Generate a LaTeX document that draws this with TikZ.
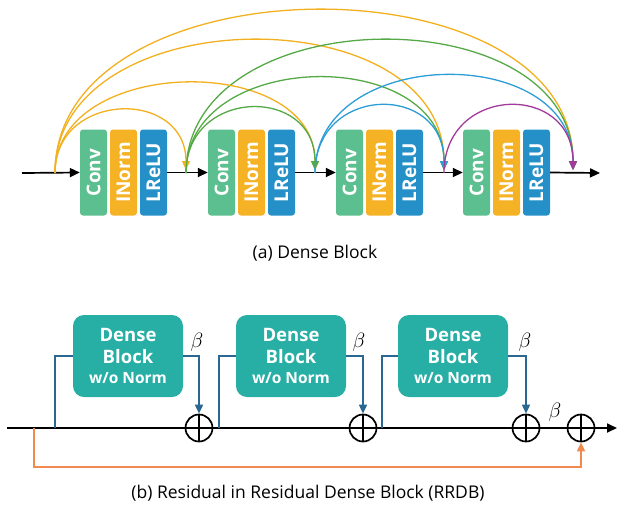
\documentclass[tikz,border=0pt]{standalone}
\usepackage{fontspec}
\setmainfont{Open Sans}
\usetikzlibrary{arrows.meta,calc}

\definecolor{convgreen}{HTML}{5CBF8F}
\definecolor{normyellow}{HTML}{F4B224}
\definecolor{relublue}{HTML}{2590C8}
\definecolor{arcyellow}{HTML}{F2B01E}
\definecolor{arcgreen}{HTML}{55A946}
\definecolor{arcblue}{HTML}{2C9DD6}
\definecolor{arcpurple}{HTML}{A23A9C}
\definecolor{denseteal}{HTML}{27AFA6}
\definecolor{linkblue}{HTML}{2A6791}
\definecolor{skiporange}{HTML}{F08A50}

\tikzset{
  layer/.style={rounded corners=3pt, minimum width=86pt, minimum height=27pt,
    inner sep=0pt, text=white, font=\fontsize{19}{19}\selectfont\bfseries, rotate=90},
  mainline/.style={line width=1.7pt, black},
  mainarrow/.style={mainline, -{Triangle[length=10pt,width=9pt]}},
  skiparc/.style={line width=1.3pt, -{Triangle[length=9pt,width=8pt]}},
  denseblock/.style={rounded corners=11pt, fill=denseteal, minimum width=110pt,
    minimum height=82pt, inner sep=0pt, text=white, align=center,
    font=\fontsize{18.5}{22}\selectfont\bfseries},
  link/.style={line width=1.7pt, linkblue},
  linkarrow/.style={link, -{Triangle[length=9pt,width=8pt]}},
  oplus/.style={circle, draw=black, line width=1.7pt, minimum size=27pt, inner sep=0pt,
    path picture={\draw[line width=1.7pt] (path picture bounding box.north) -- (path picture bounding box.south)
      (path picture bounding box.west) -- (path picture bounding box.east);}},
  caption/.style={font=\fontsize{17.5}{18}\selectfont},
  betalabel/.style={font=\fontsize{22}{22}\selectfont},
}

\begin{document}
\begin{tikzpicture}[x=1pt,y=-1pt]
\useasboundingbox (0,0) rectangle (621,507);

% ---------- (a) Dense Block ----------
\foreach \i/\x in {1/80,2/208,3/336,4/463} {
  \node[layer, fill=convgreen]  (c\i) at (\x+13.5,172.5) {Conv};
  \node[layer, fill=normyellow] (n\i) at (\x+43.5,172.5) {INorm};
  \node[layer, fill=relublue]   (l\i) at (\x+73.5,172.5) {LReLU};
}

\coordinate (ain) at (22,173);
\coordinate (aout) at (600,173);
\coordinate (j0) at (55,173);
\coordinate (j1) at (186,173);
\coordinate (j2) at (315,173);
\coordinate (j3) at (444,173);
\coordinate (j4) at (573,173);
\coordinate (t1) at (186,170);
\coordinate (t2) at (315,170);
\coordinate (t3) at (444,170);
\coordinate (t4) at (573,170);

\draw[mainarrow] (ain) -- (c1.north);
\draw[mainarrow] (l1.south) -- (c2.north);
\draw[mainarrow] (l2.south) -- (c3.north);
\draw[mainarrow] (l3.south) -- (c4.north);
\draw[mainarrow] (l4.south) -- (aout);

% dense skip connections, longest first
\draw[skiparc, arcyellow] (j0) .. controls +(0,-215) and +(0,-215) .. (t4);
\draw[skiparc, arcyellow] (j0) .. controls +(0,-175) and +(0,-175) .. (t3);
\draw[skiparc, arcgreen]  (j1) .. controls +(0,-175) and +(0,-175) .. (t4);
\draw[skiparc, arcyellow] (j0) .. controls +(0,-118) and +(0,-118) .. (t2);
\draw[skiparc, arcgreen]  (j1) .. controls +(0,-125) and +(0,-125) .. (t3);
\draw[skiparc, arcblue]   (j2) .. controls +(0,-128) and +(0,-128) .. (t4);
\draw[skiparc, arcyellow] (j0) .. controls +(0,-82) and +(0,-82) .. (t1);
\draw[skiparc, arcgreen]  (j1) .. controls +(0,-85) and +(0,-85) .. (t2);
\draw[skiparc, arcblue]   (j2) .. controls +(0,-88) and +(0,-88) .. (t3);
\draw[skiparc, arcpurple] (j3) .. controls +(0,-88) and +(0,-88) .. (t4);

\node[caption] (capa) at (315,253) {(a) Dense Block};

% ---------- (b) RRDB ----------
\foreach \i/\x in {1/128,2/291,3/453} {
  \node[denseblock] (d\i) at (\x,356)
    {Dense\\[0pt] Block\\[-2pt] {\fontsize{15.5}{18}\selectfont w/o Norm}};
}

\node[oplus] (p1) at (199,428) {};
\node[oplus] (p2) at (363,428) {};
\node[oplus] (p3) at (526,428) {};
\node[oplus] (p4) at (581,428) {};

\coordinate (bin) at (7,428);
\coordinate (bout) at (617,428);
\coordinate (s0) at (34,428);
\coordinate (s0low) at (34,467);
\coordinate (b1) at (55,428);
\coordinate (b2) at (219,428);
\coordinate (b3) at (382,428);

\draw[mainline] (bin) -- (p1.west);
\draw[mainline] (p1.east) -- (p2.west);
\draw[mainline] (p2.east) -- (p3.west);
\draw[mainline] (p3.east) -- (p4.west);
\draw[mainarrow] (p4.east) -- (bout);

\draw[link] (b1) |- (d1.west);
\draw[link] (b2) |- (d2.west);
\draw[link] (b3) |- (d3.west);
\draw[linkarrow] (d1.east) -| (p1.north);
\draw[linkarrow] (d2.east) -| (p2.north);
\draw[linkarrow] (d3.east) -| (p3.north);

\draw[line width=1.7pt, skiporange, -{Triangle[length=9pt,width=8pt]}]
  (s0) -- (s0low) -| (p4.south);

\node[betalabel] (beta1) at (197,342) {$\beta$};
\node[betalabel] (beta2) at (359,342) {$\beta$};
\node[betalabel] (beta3) at (525,342) {$\beta$};
\node[betalabel] (beta4) at (555,412) {$\beta$};

\node[caption] (capb) at (308,493) {(b) Residual in Residual Dense Block (RRDB)};
\end{tikzpicture}
\end{document}
